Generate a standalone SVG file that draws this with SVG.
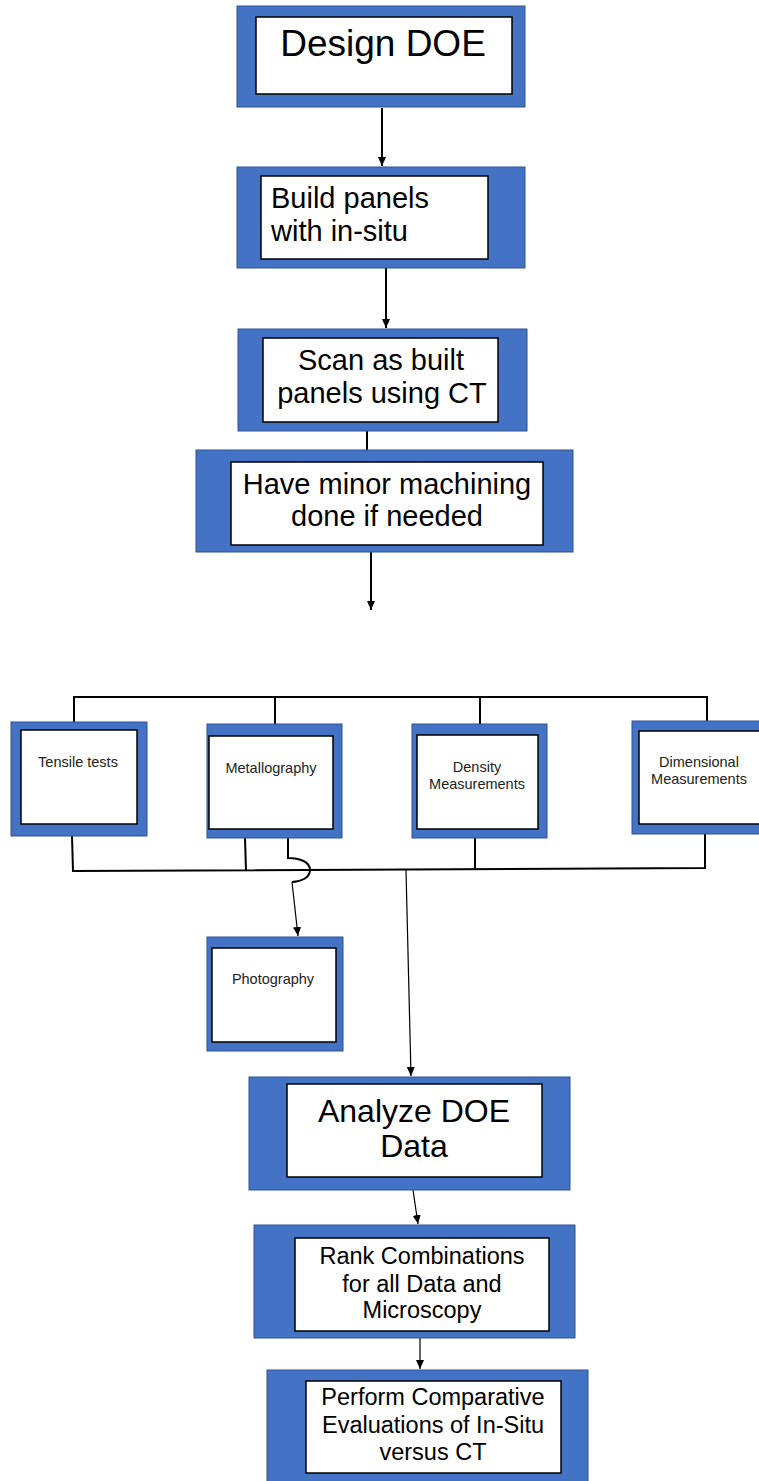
<svg xmlns="http://www.w3.org/2000/svg" width="759" height="1481" viewBox="0 0 759 1481">
<style>
.outer{fill:#4472C4;stroke:#2F528F;stroke-width:1}
.inner{fill:#fff;stroke:#000;stroke-width:1.5}
.t{font-family:"Liberation Sans",Arial,sans-serif;fill:#000}
.s{font-family:"Liberation Sans",Arial,sans-serif;fill:#222;font-size:14.5px;text-anchor:middle}
.ln{fill:none;stroke:#000;stroke-width:2}
.thin{fill:none;stroke:#000;stroke-width:1.2}
</style>
<defs>
<marker id="ah" markerUnits="userSpaceOnUse" markerWidth="10" markerHeight="10" refX="9" refY="5" orient="auto">
<path d="M0,1 L9,5 L0,9 Z" fill="#000"/>
</marker>
</defs>
<rect width="759" height="1481" fill="#fff"/>
<g id="connectors">
<line class="ln" x1="382" y1="108" x2="382" y2="166" marker-end="url(#ah)"/>
<line class="ln" x1="386" y1="268" x2="386" y2="328" marker-end="url(#ah)"/>
<line class="ln" x1="367" y1="431" x2="367" y2="450"/>
<line class="ln" x1="371" y1="552" x2="371" y2="610" marker-end="url(#ah)"/>
<polyline class="ln" points="74,722 74,697 707,697 707,721"/>
<line class="ln" x1="275" y1="697" x2="275" y2="724"/>
<line class="ln" x1="480" y1="697" x2="480" y2="724"/>
<polyline class="ln" points="72,836 73,871 705,868 705,834"/>
<line class="ln" x1="245" y1="838" x2="246" y2="871"/>
<line class="ln" x1="475" y1="838" x2="475" y2="869"/>
<path class="ln" d="M288,838 L288,858 C300,858 310,862 310,870 C310,878 300,882 292,882" stroke-width="1.5"/>
<line class="thin" x1="292" y1="882" x2="298" y2="936" marker-end="url(#ah)"/>
<line class="thin" x1="406" y1="870" x2="411" y2="1076" marker-end="url(#ah)"/>
<line class="thin" x1="413" y1="1190" x2="418" y2="1224" marker-end="url(#ah)"/>
<line class="thin" x1="420" y1="1338" x2="420" y2="1369" marker-end="url(#ah)"/>
</g>
<g id="design-doe">
<rect class="outer" x="237" y="6" width="288" height="101"/>
<rect class="inner" x="256" y="17" width="256" height="77"/>
<text class="t" x="383" y="56" font-size="37" text-anchor="middle">Design DOE</text>
</g>
<g id="build-panels">
<rect class="outer" x="237" y="167" width="288" height="101"/>
<rect class="inner" x="261" y="176" width="227" height="83"/>
<text class="t" x="271" y="208" font-size="29">Build panels</text>
<text class="t" x="271" y="241" font-size="29">with in-situ</text>
</g>
<g id="scan">
<rect class="outer" x="238" y="329" width="289" height="102"/>
<rect class="inner" x="263" y="338" width="235" height="84"/>
<text class="t" x="381" y="370" font-size="29" text-anchor="middle">Scan as built</text>
<text class="t" x="382" y="403" font-size="29" text-anchor="middle">panels using CT</text>
</g>
<g id="machining">
<rect class="outer" x="196" y="450" width="377" height="102"/>
<rect class="inner" x="231" y="462" width="312" height="83"/>
<text class="t" x="387" y="494" font-size="29" text-anchor="middle">Have minor machining</text>
<text class="t" x="387" y="526" font-size="29" text-anchor="middle">done if needed</text>
</g>
<g id="tensile">
<rect class="outer" x="11" y="722" width="136" height="114"/>
<rect class="inner" x="21" y="730" width="116" height="94"/>
<text class="s" x="78" y="767">Tensile tests</text>
</g>
<g id="metallography">
<rect class="outer" x="207" y="724" width="135" height="114"/>
<rect class="inner" x="209" y="736" width="124" height="93"/>
<text class="s" x="271" y="773">Metallography</text>
</g>
<g id="density">
<rect class="outer" x="412" y="724" width="135" height="114"/>
<rect class="inner" x="417" y="735" width="121" height="94"/>
<text class="s" x="477" y="772">Density</text>
<text class="s" x="477" y="789">Measurements</text>
</g>
<g id="dimensional">
<rect class="outer" x="632" y="721" width="140" height="113"/>
<rect class="inner" x="639" y="731" width="130" height="93"/>
<text class="s" x="699" y="767">Dimensional</text>
<text class="s" x="699" y="784">Measurements</text>
</g>
<g id="photography">
<rect class="outer" x="207" y="937" width="136" height="114"/>
<rect class="inner" x="212" y="948" width="124" height="94"/>
<text class="s" x="273" y="984">Photography</text>
</g>
<g id="analyze">
<rect class="outer" x="249" y="1077" width="321" height="113"/>
<rect class="inner" x="287" y="1084" width="255" height="93"/>
<text class="t" x="414" y="1122" font-size="32" text-anchor="middle">Analyze DOE</text>
<text class="t" x="414" y="1157" font-size="32" text-anchor="middle">Data</text>
</g>
<g id="rank">
<rect class="outer" x="254" y="1225" width="321" height="113"/>
<rect class="inner" x="295" y="1238" width="254" height="93"/>
<text class="t" x="422" y="1264" font-size="23.5" text-anchor="middle">Rank Combinations</text>
<text class="t" x="422" y="1292" font-size="23.5" text-anchor="middle">for all Data and</text>
<text class="t" x="422" y="1318" font-size="23.5" text-anchor="middle">Microscopy</text>
</g>
<g id="perform">
<rect class="outer" x="267" y="1370" width="321" height="120"/>
<rect class="inner" x="306" y="1381" width="255" height="92"/>
<text class="t" x="433" y="1405" font-size="23.5" text-anchor="middle">Perform Comparative</text>
<text class="t" x="433" y="1433" font-size="23.5" text-anchor="middle">Evaluations of In-Situ</text>
<text class="t" x="433" y="1460" font-size="23.5" text-anchor="middle">versus CT</text>
</g>
</svg>
